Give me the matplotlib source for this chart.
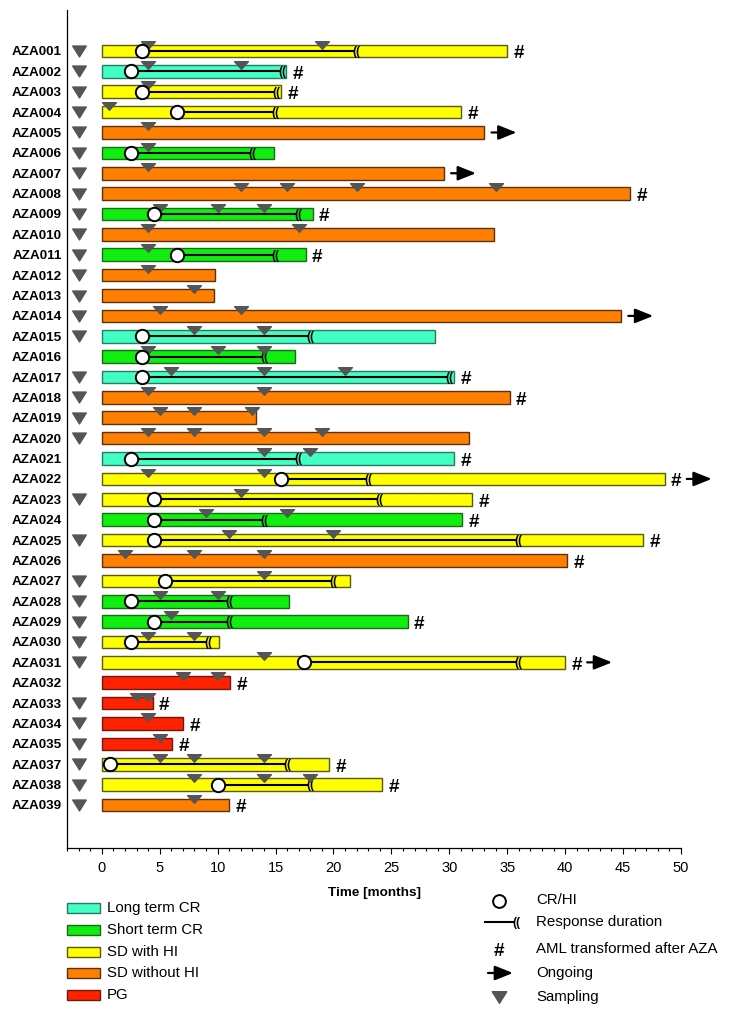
import matplotlib
matplotlib.use("Agg")
import matplotlib.pyplot as plt
from matplotlib.path import Path
from matplotlib.patches import Rectangle, FancyArrowPatch
from matplotlib.lines import Line2D
import numpy as np

plt.rcParams['font.family'] = ['Liberation Sans', 'DejaVu Sans']

# ---------------- data ----------------
patients = ['AZA001', 'AZA002', 'AZA003', 'AZA004', 'AZA005', 'AZA006', 'AZA007', 'AZA008',
            'AZA009', 'AZA010', 'AZA011', 'AZA012', 'AZA013', 'AZA014', 'AZA015', 'AZA016',
            'AZA017', 'AZA018', 'AZA019', 'AZA020', 'AZA021', 'AZA022', 'AZA023', 'AZA024',
            'AZA025', 'AZA026', 'AZA027', 'AZA028', 'AZA029', 'AZA030', 'AZA031', 'AZA032',
            'AZA033', 'AZA034', 'AZA035', 'AZA037', 'AZA038', 'AZA039']
# L = long term CR, S = short term CR, Y = SD with HI, O = SD without HI, P = PG
category = ['Y', 'L', 'Y', 'Y', 'O', 'S', 'O', 'O',
            'S', 'O', 'S', 'O', 'O', 'O', 'L', 'S',
            'L', 'O', 'O', 'O', 'L', 'Y', 'Y', 'S',
            'Y', 'O', 'Y', 'S', 'S', 'Y', 'Y', 'P',
            'P', 'P', 'P', 'Y', 'Y', 'O']
duration = [35.0, 15.9, 15.5, 31.0, 33.0, 14.85, 29.5, 45.6,
            18.2, 33.9, 17.6, 9.8, 9.7, 44.8, 28.8, 16.7,
            30.4, 35.2, 13.3, 31.7, 30.4, 48.6, 32.0, 31.1,
            46.75, 40.2, 21.4, 16.2, 26.4, 10.1, 40.0, 11.1,
            4.4, 7.0, 6.1, 19.6, 24.2, 11.0]
response_start = [3.5, 2.5, 3.5, 6.5, None, 2.5, None, None,
                  4.5, None, 6.5, None, None, None, 3.5, 3.5,
                  3.5, None, None, None, 2.5, 15.5, 4.5, 4.5,
                  4.5, None, 5.5, 2.5, 4.5, 2.5, 17.5, None,
                  None, None, None, 0.7, 10.0, None]
response_end = [22.0, 15.6, 15.1, 15.0, None, 13.0, None, None,
                17.0, None, 15.0, None, None, None, 18.0, 14.0,
                30.0, None, None, None, 17.0, 23.0, 24.0, 14.0,
                36.0, None, 20.0, 11.0, 11.0, 9.2, 36.0, None,
                None, None, None, 16.0, 18.0, None]
sampling = [[4, 19], [4, 12], [4], [0.6], [4], [4], [4], [12, 16, 22, 34],
            [5, 10, 14], [4, 17], [4], [4], [8], [5, 12], [8, 14], [4, 10, 14],
            [6, 14, 21], [4, 14], [5, 8, 13], [4, 8, 14, 19], [14, 18], [4, 14], [12], [9, 16],
            [11, 20], [2, 8, 14], [14], [5, 10], [6], [4, 8], [14], [7, 10],
            [3, 4], [4], [5], [5, 8, 14], [8, 14, 18], [8]]
aml = [1, 1, 1, 1, 0, 0, 0, 1,
       1, 0, 1, 0, 0, 0, 0, 0,
       1, 1, 0, 0, 1, 1, 1, 1,
       1, 1, 0, 0, 1, 0, 1, 1,
       1, 1, 1, 1, 1, 1]
ongoing = [0, 0, 0, 0, 1, 0, 1, 0,
           0, 0, 0, 0, 0, 1, 0, 0,
           0, 0, 0, 0, 0, 1, 0, 0,
           0, 0, 0, 0, 0, 0, 1, 0,
           0, 0, 0, 0, 0, 0]
baseline_sample = [1, 1, 1, 1, 1, 1, 1, 1,
                   1, 1, 1, 1, 1, 1, 1, 0,
                   1, 1, 1, 1, 0, 0, 1, 0,
                   1, 0, 1, 1, 1, 1, 1, 0,
                   1, 1, 1, 1, 1, 1]

cat_labels = {'L': 'Long term CR', 'S': 'Short term CR', 'Y': 'SD with HI',
              'O': 'SD without HI', 'P': 'PG'}
cat_order = ['L', 'S', 'Y', 'O', 'P']
cat_fill = {'L': '#42FFC4', 'S': '#10EE10', 'Y': '#FFFF00', 'O': '#FF8000', 'P': '#FF2200'}
cat_edge = {'L': '#2C7A66', 'S': '#1A6A1A', 'Y': '#5A5A10', 'O': '#5A3010', 'P': '#6A1A10'}

SAMP_COLOR = '#555555'
tri_small = Path([(-1, 0.55), (1, 0.55), (0, -0.55), (-1, 0.55)],
                 [Path.MOVETO, Path.LINETO, Path.LINETO, Path.CLOSEPOLY])
tri_big = Path([(-1, 0.8), (1, 0.8), (0, -0.8), (-1, 0.8)],
               [Path.MOVETO, Path.LINETO, Path.LINETO, Path.CLOSEPOLY])
ARROW = '-|>,head_length=0.55,head_width=0.22'

W, H = 734, 1019
fig = plt.figure(figsize=(W / 100, H / 100), dpi=100)
ax = fig.add_axes([67 / W, 1 - 848 / H, 614 / W, 838 / H])

n = len(patients)
ypos = np.arange(n)
bar_h = 0.62
HASH_DY = 0.14   # rows; compensates text descent so the glyph sits on the bar centre

for i in range(n):
    c = category[i]
    ax.barh(ypos[i], duration[i], left=0, height=bar_h, color=cat_fill[c],
            edgecolor=cat_edge[c], linewidth=1.0, zorder=2)
    if response_start[i] is not None:
        ax.plot([response_start[i], response_end[i] - 0.2], [ypos[i], ypos[i]],
                color='black', lw=1.5, zorder=3, solid_capstyle='butt')
        ax.text(response_end[i], ypos[i] + 0.04, '((', fontsize=8.5, fontweight='bold',
                ha='center', va='center', zorder=4)
    for s in sampling[i]:
        ax.plot(s, ypos[i] - bar_h / 2, marker=tri_small, markersize=10,
                color=SAMP_COLOR, linestyle='none', zorder=5)
    if response_start[i] is not None:
        ax.plot(response_start[i], ypos[i], marker='o', markersize=9.6,
                markerfacecolor='white', markeredgecolor='black', markeredgewidth=1.4,
                linestyle='none', zorder=6)
    x_next = duration[i] + 0.65
    if aml[i]:
        ax.text(duration[i] + 1.0, ypos[i] + HASH_DY, '#', fontsize=13.5, fontweight='bold',
                ha='center', va='center', zorder=4)
        x_next = duration[i] + 1.9
    if ongoing[i]:
        ax.annotate('', xy=(x_next + 2.15, ypos[i]), xytext=(x_next, ypos[i]),
                    arrowprops=dict(arrowstyle=ARROW, color='black', lw=1.6,
                                    mutation_scale=20, shrinkA=0, shrinkB=0),
                    annotation_clip=False, zorder=4)
    if baseline_sample[i]:
        ax.plot(-1.95, ypos[i], marker=tri_big, markersize=9.8, color=SAMP_COLOR,
                linestyle='none', clip_on=False, zorder=5)

ax.set_xlim(-3, 50)
ax.set_ylim(n - 1 + 2.11, -2.01)
ax.set_xticks(np.arange(0, 51, 5))
ax.set_xticks(np.arange(-3, 51, 1), minor=True)
ax.tick_params(axis='x', which='major', length=4, width=0.8, direction='out',
               labelsize=10.5, pad=5)
ax.tick_params(axis='x', which='minor', length=2.3, width=0.8, direction='out')
ax.set_yticks(ypos)
ax.set_yticklabels(patients, fontsize=9.7, fontweight='bold')
ax.tick_params(axis='y', length=0, pad=3.6)
for sp in ['top', 'right']:
    ax.spines[sp].set_visible(False)
ax.spines['left'].set_linewidth(0.9)
ax.spines['bottom'].set_linewidth(0.9)

ax.set_xlabel('Time [months]', fontsize=9.7, fontweight='bold')
ax.xaxis.set_label_coords(0.5, (848 - 893) / 838)
ax.xaxis.label.set_va('center')


# ---------------- legends (figure pixel coordinates) ----------------
def P(x, y):
    return (x / W, 1 - y / H)


left_rows = [908, 930, 952, 973, 995]
for c, yy in zip(cat_order, left_rows):
    x0, y0 = P(67, yy + 5)
    fig.add_artist(Rectangle((x0, y0), 33 / W, 10 / H, transform=fig.transFigure,
                             facecolor=cat_fill[c], edgecolor=cat_edge[c], linewidth=1.0))
    tx, ty = P(107, yy)
    fig.text(tx, ty, cat_labels[c], fontsize=10.8, ha='left', va='center')

right_rows = [900.5, 922, 949, 973, 997]
right_labels = ['CR/HI', 'Response duration', 'AML transformed after AZA', 'Ongoing', 'Sampling']
sx = 499
fig.add_artist(Line2D([P(sx, 0)[0]], [P(0, right_rows[0])[1]], marker='o', markersize=9.2,
                      markerfacecolor='white', markeredgecolor='black', markeredgewidth=1.4,
                      transform=fig.transFigure, linestyle='none'))
fig.add_artist(Line2D([P(485, 0)[0], P(513, 0)[0]], [P(0, right_rows[1])[1]] * 2,
                      color='black', lw=1.5, transform=fig.transFigure))
fig.text(P(516, 0)[0], P(0, right_rows[1] + 1)[1], '((', fontsize=8.5, fontweight='bold',
         ha='center', va='center')
fig.text(P(sx, 0)[0], P(0, right_rows[2] + 3)[1], '#', fontsize=13.5, fontweight='bold',
         ha='center', va='center')
fig.add_artist(FancyArrowPatch(
    P(488, right_rows[3]), P(513, right_rows[3]), transform=fig.transFigure,
    arrowstyle=ARROW, color='black', lw=1.6, mutation_scale=20, shrinkA=0, shrinkB=0))
fig.add_artist(Line2D([P(sx, 0)[0]], [P(0, right_rows[4])[1]], marker=tri_big,
                      markersize=10.5, color=SAMP_COLOR, transform=fig.transFigure,
                      linestyle='none'))
for lab, yy in zip(right_labels, right_rows):
    tx, ty = P(536, yy)
    fig.text(tx, ty, lab, fontsize=10.8, ha='left', va='center')

fig.savefig('out.png', dpi=100)
